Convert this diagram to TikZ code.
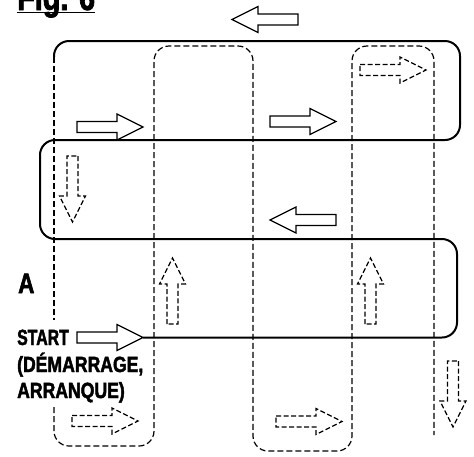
\documentclass[tikz,border=0pt]{standalone}
\usepackage{fontspec}
\usepackage{tikz}
\newfontfamily\condfont[FakeStretch=0.8, FakeBold=2]{Liberation Sans Bold}
\newfontfamily\condnarrow[FakeStretch=0.72, FakeBold=2]{Liberation Sans Bold}

\begin{document}
\begin{tikzpicture}[
        x=1pt, y=-1pt,
        route/.style={line width=2pt, rounded corners=15pt},
        lane/.style={line width=1.2pt, dash pattern=on 6pt off 3pt, rounded corners=15pt},
        dasharrow/.style={dash pattern=on 5pt off 2.5pt},
        txt/.style={font=\condfont\fontsize{22}{26}\selectfont, anchor=base west, inner sep=0pt},
        blockarrow/.pic={\draw[line width=1.2pt, line join=miter] (0,-5.5) -- (40,-5.5) -- (40,-13) -- (66,0) -- (40,13) -- (40,5.5) -- (0,5.5) -- cycle;}
    ]
        \useasboundingbox (0,0) rectangle (474,456);

        % Title
        \node[txt, font=\condfont\fontsize{36}{40}\selectfont] (title) at (17,10) {Fig. 6};
        \draw[line width=1.5pt] ([yshift=-2.5pt]title.base west) -- ([yshift=-2.5pt]title.base east);

        % Lanes (dashed)
        \draw[lane] (54,57) -- (54,320);
        \draw[lane] (54,407) -- (54,446) -- (154,446) -- (154,46) -- (253,46) -- (253,451)
            -- (352,451) -- (352,46) -- (434,46) -- (434,435);

        % Route (solid)
        \draw[route] (143,337.5) -- (457,337.5) -- (457,239) -- (40,239) -- (40,140)
            -- (460,140) -- (460,41) -- (54,41) -- (54,57);

        % Arrows
        \pic[rotate=180] at (298,19.5) {blockarrow};
        \pic at (77,127) {blockarrow};
        \pic at (270,121.5) {blockarrow};
        \pic[dasharrow] at (360,70) {blockarrow};
        \pic[dasharrow, rotate=-90] at (72.5,156) {blockarrow};
        \pic[rotate=180] at (336,220) {blockarrow};
        \pic[dasharrow, rotate=90] at (172.5,324) {blockarrow};
        \pic[dasharrow, rotate=90] at (370.5,324) {blockarrow};
        \pic at (77,337.5) {blockarrow}; % Start
        \pic[dasharrow] at (72,421) {blockarrow};
        \pic[dasharrow] at (276,421.5) {blockarrow};
        \pic[dasharrow, rotate=-90] at (453,361) {blockarrow};

        % Labels
        \node[txt, font=\condfont\fontsize{28}{32}\selectfont] (pointA) at (18,293) {A};
        \node[txt, font=\condnarrow\fontsize{22}{26}\selectfont] (start) at (17,345) {START};
        \node[txt] (startfr) at (17,372) {(DÉMARRAGE,};
        \node[txt] (startes) at (17,398) {ARRANQUE)};

    \end{tikzpicture}
\end{document}
